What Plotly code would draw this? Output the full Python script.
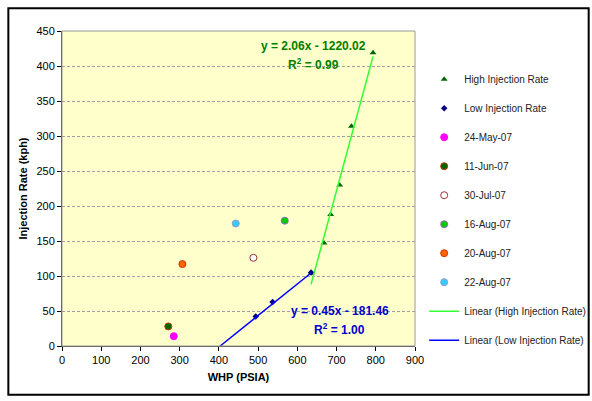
import plotly.graph_objects as go

# Injection rate vs. wellhead pressure
high_whp = [635, 668, 685, 708, 738, 793]
high_rate = [104, 147, 188, 230, 314, 419]

low_whp = [494, 537, 635]
low_rate = [42, 63, 105]

spot_names = ["24-May-07", "11-Jun-07", "30-Jul-07", "16-Aug-07", "20-Aug-07", "22-Aug-07"]
spot_whp = [285, 271, 488, 568, 307, 443]
spot_rate = [14, 28, 126, 179, 117, 175]

# Linear trend fits (slope, intercept, R²) and the WHP span each is drawn over
high_fit = (2.06, -1220.02, 0.99)
high_fit_span = [635, 793]
low_fit = (0.45, -181.46, 1.00)
low_fit_span = [181.46 / 0.45, 635]

x_ticks = [0, 100, 200, 300, 400, 500, 600, 700, 800, 900]
y_ticks = [0, 50, 100, 150, 200, 250, 300, 350, 400, 450]

spot_fill = ["#FF00FF", "#006600", "#FFFFFF", "#00CC00", "#FF6600", "#33CCFF"]
spot_edge = ["#FF00FF", "#CC3300", "#993333", "#9966CC", "#CC3300", "#9999CC"]

FONT = "Liberation Sans, Arial, sans-serif"

fig = go.Figure()

fig.add_trace(go.Scatter(
    x=high_whp, y=high_rate, mode="markers", name="High Injection Rate",
    legendgroup="g0",
    marker=dict(symbol="triangle-up", size=6, color="#006600"),
))
fig.add_trace(go.Scatter(
    x=low_whp, y=low_rate, mode="markers", name="Low Injection Rate",
    legendgroup="g1",
    marker=dict(symbol="diamond", size=5, color="#000080"),
))
for i, name in enumerate(spot_names):
    fig.add_trace(go.Scatter(
        x=[spot_whp[i]], y=[spot_rate[i]], mode="markers", name=name,
        legendgroup=f"g{i + 2}",
        marker=dict(symbol="circle", size=7, color=spot_fill[i],
                    line=dict(color=spot_edge[i], width=1)),
    ))

hm, hb, hr2 = high_fit
lm, lb, lr2 = low_fit
fig.add_trace(go.Scatter(
    x=high_fit_span, y=[hm * v + hb for v in high_fit_span], mode="lines",
    name="Linear (High Injection Rate)", legendgroup="g8",
    line=dict(color="#33FF33", width=1.5),
))
fig.add_trace(go.Scatter(
    x=low_fit_span, y=[lm * v + lb for v in low_fit_span], mode="lines",
    name="Linear (Low Injection Rate)", legendgroup="g9",
    line=dict(color="#0000FF", width=1.5),
))


def eq_lines(m, b, r2):
    sign = "-" if b < 0 else "+"
    return (f"y = {m:.2f}x {sign} {abs(b):.2f}",
            f"R<sup>2</sup> = {r2:.2f}")


def add_equation(fit, x, y1, y2, color):
    line1, line2 = eq_lines(*fit)
    for text, y in ((line1, y1), (line2, y2)):
        fig.add_annotation(x=x, y=y, xref="x", yref="y", text=text,
                           showarrow=False, xanchor="center", yanchor="middle",
                           font=dict(family=FONT, size=12, color=color, weight="bold"))


add_equation(high_fit, 640, 429, 403, "#008000")
add_equation(low_fit, 708, 50, 24, "#0000CC")

# Plot-area border on top and right
fig.add_shape(type="rect", xref="paper", yref="paper", x0=0, y0=0, x1=1, y1=1,
              line=dict(color="#999999", width=1), layer="above")
# Outer chart frame
fig.add_shape(type="rect", xref="paper", yref="paper",
              x0=-0.152, y0=-0.155, x1=1.492, y1=1.072,
              line=dict(color="#000000", width=2))

fig.update_layout(
    width=592, height=401,
    margin=dict(l=62, r=177, t=31, b=55, pad=0, autoexpand=False),
    paper_bgcolor="#FFFFFF",
    plot_bgcolor="#FFFFCC",
    font=dict(family=FONT, size=11, color="#000000"),
    showlegend=True,
    legend=dict(
        x=1.026, y=0.893, xanchor="left", yanchor="top",
        font=dict(family=FONT, size=10, color="#222222"),
        tracegroupgap=10, bgcolor="rgba(0,0,0,0)",
        traceorder="grouped",
    ),
    xaxis=dict(
        range=[0, 900], tickvals=x_ticks, ticks="outside", ticklen=4,
        tickcolor="#000000", showline=True, linecolor="#404040", linewidth=1,
        showgrid=False, zeroline=False,
        title=dict(text="<b>WHP (PSIA)</b>", font=dict(size=11), standoff=8),
        tickfont=dict(size=11),
    ),
    yaxis=dict(
        range=[0, 450], tickvals=y_ticks, ticks="outside", ticklen=4,
        tickcolor="#000000", showline=True, linecolor="#404040", linewidth=1,
        showgrid=True, gridcolor="#A0A0A0", griddash="3px,2px", gridwidth=1,
        zeroline=False,
        title=dict(text="<b>Injection Rate (kph)</b>", font=dict(size=11), standoff=6),
        tickfont=dict(size=11),
    ),
)

fig.write_html("out.html")
